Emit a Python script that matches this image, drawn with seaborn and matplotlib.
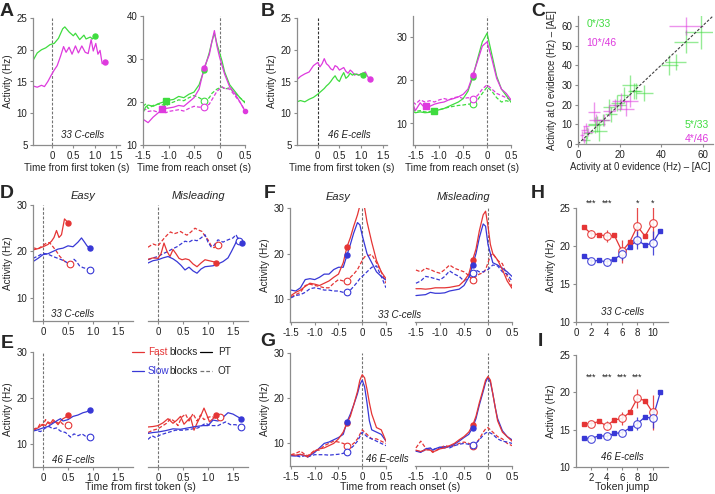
import numpy as np
import matplotlib.pyplot as plt
import seaborn as sns
from matplotlib.lines import Line2D

# ---------------- data ----------------
# A : C-cells, green / magenta
A1_t_green = [-0.45, -0.35, -0.25, -0.15, -0.05, 0.05, 0.15, 0.25, 0.3, 0.4, 0.5, 0.55, 0.65, 0.75, 0.8, 0.9, 0.95, 1.02]
A1_green = [18.3, 19.5, 20.0, 20.3, 20.8, 21.0, 21.8, 23.3, 23.6, 22.8, 22.2, 22.6, 21.6, 22.3, 21.7, 22.0, 21.7, 22.2]
A1_t_mag = [-0.45, -0.35, -0.25, -0.18, -0.1, -0.02, 0.05, 0.12, 0.2, 0.27, 0.33, 0.4, 0.47, 0.55, 0.62, 0.7, 0.78, 0.85,
            0.92, 0.97, 1.03, 1.08, 1.13, 1.18, 1.24]
A1_mag = [14.3, 14.1, 14.4, 14.2, 15.0, 16.0, 16.8, 17.5, 19.0, 20.5, 19.6, 20.4, 19.3, 20.6, 19.5, 20.6, 19.6, 19.4,
          21.6, 19.8, 21.0, 19.3, 19.9, 17.8, 18.1]

A2_t = [-1.5, -1.45, -1.4, -1.3, -1.2, -1.1, -1.05, -1.0, -0.9, -0.8, -0.7, -0.6, -0.5, -0.4, -0.3, -0.2, -0.15, -0.1,
        -0.05, 0.0, 0.05, 0.1, 0.2, 0.3, 0.4, 0.5]
A2_green_pt = [17.5, 18.8, 19.3, 19.0, 19.6, 20.0, 20.2, 20.4, 20.6, 21.3, 21.0, 21.8, 22.3, 24.0, 27.5, 31.5, 34.0, 36.0,
               33.5, 31.5, 29.5, 27.0, 24.0, 22.5, 21.0, 19.8]
A2_mag_pt = [16.0, 15.6, 15.2, 16.5, 17.5, 18.2, 18.5, 18.6, 18.8, 19.2, 19.0, 20.0, 21.0, 23.0, 28.0, 31.0, 34.0, 36.6,
             33.0, 30.5, 28.5, 26.5, 23.5, 22.0, 20.0, 17.9]
A2_green_ot = [19.0, 19.5, 18.5, 19.2, 19.5, 19.3, 19.0, 19.6, 20.0, 20.5, 20.3, 21.0, 21.5, 21.0, 20.3, 21.0, 22.0, 22.5,
               23.0, 23.3, 23.5, 23.0, 23.3, 22.0, 21.0, 20.0]
A2_mag_ot = [18.0, 18.3, 17.8, 18.0, 17.6, 17.8, 17.5, 17.8, 18.0, 18.2, 17.9, 18.5, 19.0, 18.8, 18.8, 19.5, 20.5, 21.5,
             22.5, 23.0, 23.5, 23.2, 23.0, 21.5, 20.0, 18.0]
A2_green_sq = (-1.05, 20.2)
A2_mag_sq = (-1.13, 18.4)

# B : E-cells
B1_t = [-0.48, -0.4, -0.3, -0.2, -0.1, 0.0, 0.05, 0.1, 0.15, 0.2, 0.25, 0.3, 0.35, 0.4, 0.45, 0.5, 0.55, 0.6, 0.65, 0.7,
        0.75, 0.8, 0.85, 0.9, 0.95, 1.0, 1.05, 1.1, 1.15, 1.2]
B1_mag = [15.3, 15.8, 16.2, 16.5, 17.5, 18.0, 17.3, 17.8, 18.6, 17.8, 17.5, 17.0, 16.8, 17.5, 17.3, 16.8, 17.0, 17.2,
          16.6, 16.3, 16.8, 16.5, 16.0, 16.2, 16.0, 16.2, 16.3, 16.5, 15.8, 15.4]
B1_green = [11.8, 12.0, 11.8, 12.2, 12.5, 13.0, 13.3, 13.6, 13.9, 14.3, 14.6, 15.0, 15.5, 15.9, 15.3, 15.0, 15.8, 16.4,
            15.5, 15.8, 16.3, 16.0, 16.2, 16.1, 16.0, 16.2, 16.1]

B2_t = [-1.55, -1.5, -1.4, -1.3, -1.2, -1.1, -1.0, -0.9, -0.8, -0.7, -0.6, -0.5, -0.4, -0.3, -0.2, -0.1, 0.0, 0.1, 0.2,
        0.3, 0.4, 0.5]
B2_mag_pt = [14.5, 13.0, 14.8, 13.6, 14.0, 14.5, 14.8, 15.0, 15.5, 15.8, 16.2, 16.8, 18.0, 21.2, 24.5, 28.0, 29.0, 25.0,
             20.5, 18.0, 17.0, 15.5]
B2_green_pt = [12.8, 12.5, 12.7, 12.5, 12.6, 12.9, 13.2, 13.5, 14.0, 14.5, 15.0, 15.8, 17.5, 20.8, 25.0, 29.0, 31.0, 26.0,
               21.0, 18.0, 16.5, 15.0]
B2_mag_ot = [15.0, 14.5, 15.5, 15.0, 15.3, 15.0, 15.5, 15.8, 15.5, 16.0, 16.2, 15.8, 16.0, 15.8, 16.5, 18.0, 19.0, 18.0,
             17.0, 16.5, 16.0, 15.5]
B2_green_ot = [13.5, 12.8, 13.0, 12.7, 12.8, 13.0, 13.2, 13.5, 13.8, 14.0, 14.2, 14.3, 14.5, 14.5, 15.5, 17.0, 18.5, 17.5,
               16.0, 15.0, 15.3, 15.0]
B2_mag_sq = (-1.27, 14.0)
B2_green_sq = (-1.12, 12.9)

# C : activity at 0 evidence, AC vs AE
C_green_x = [59, 52, 47, 44, 32, 28, 25, 22, 19, 16, 15, 10, 9, 8, 4.5, 4, 12, 20, 27]
C_green_y = [57, 52, 41.5, 40, 26, 27, 30, 25, 21, 15, 19, 6.5, 10, 9.7, 5.5, 2.2, 12, 20, 27]
C_green_xe = [7.5, 6, 5, 4, 4, 3, 4, 3, 3, 3, 3, 4, 4, 3, 2, 2, 3, 3, 3]
C_green_ye = [9, 6, 4, 5, 4, 4, 5, 4, 4, 4, 4, 5, 4, 4, 3, 2, 3, 3, 4]
C_mag_x = [52, 20.5, 23, 15, 7.7, 8.5, 12.5, 2.9, 2, 3, 3.7, 18, 5, 25]
C_mag_y = [60, 22, 18, 17, 16.4, 12, 12, 7.2, 4.7, 2.2, 8.9, 20, 6, 22]
C_mag_xe = [8, 4, 4, 3, 3, 3, 3, 1.5, 1, 1, 1.5, 3, 2, 4]
C_mag_ye = [4.5, 4, 4, 3, 5, 3, 3, 2, 2, 1.5, 2, 3, 2, 3]

# D : C-cells, first token (easy / misleading)
D1_t_red_pt = [-0.2, -0.1, 0.0, 0.1, 0.17, 0.22, 0.27, 0.32, 0.37, 0.43, 0.5]
D1_red_pt = [20.3, 20.6, 21.0, 21.5, 22.2, 23.0, 24.5, 23.0, 23.6, 27.0, 26.2]
D1_t_red_ot = [-0.2, -0.1, 0.0, 0.07, 0.13, 0.2, 0.27, 0.33, 0.4, 0.47, 0.53]
D1_red_ot = [20.8, 20.5, 21.3, 21.8, 21.9, 21.0, 20.0, 19.0, 18.2, 17.5, 17.3]
D1_t_blue_pt = [-0.2, -0.1, 0.0, 0.1, 0.2, 0.3, 0.4, 0.5, 0.6, 0.7, 0.77, 0.83, 0.88, 0.93]
D1_blue_pt = [17.8, 18.5, 19.3, 19.5, 20.0, 20.5, 20.7, 21.2, 21.0, 22.0, 22.9, 22.0, 21.2, 20.7]
D1_t_blue_ot = [-0.2, -0.1, 0.0, 0.1, 0.2, 0.3, 0.37, 0.45, 0.52, 0.57, 0.62, 0.67, 0.73, 0.8, 0.87, 0.93]
D1_blue_ot = [18.5, 19.0, 19.6, 19.4, 18.9, 18.5, 18.2, 17.8, 17.3, 17.6, 18.3, 17.8, 16.9, 16.5, 16.3, 16.0]

D2_t_red_ot = [-0.2, -0.1, 0.0, 0.06, 0.12, 0.18, 0.25, 0.32, 0.38, 0.45, 0.52, 0.58, 0.66, 0.74, 0.81, 0.88, 0.94, 1.0,
               1.06, 1.12, 1.2]
D2_red_ot = [20.9, 21.6, 21.2, 22.0, 22.8, 23.5, 24.2, 23.8, 24.0, 24.3, 23.8, 23.5, 24.2, 25.0, 24.6, 24.3, 23.3, 22.5,
             21.3, 20.8, 21.4]
D2_t_red_pt = [-0.2, -0.1, 0.0, 0.06, 0.12, 0.18, 0.24, 0.3, 0.36, 0.42, 0.48, 0.55, 0.62, 0.7, 0.78, 0.86, 0.94, 1.02,
               1.1, 1.16]
D2_red_pt = [18.3, 18.6, 18.5, 19.5, 21.8, 20.0, 18.9, 20.4, 19.5, 18.5, 18.2, 18.4, 18.2, 17.3, 16.7, 17.5, 18.2, 18.0,
             17.8, 17.6]
D2_t_blue_pt = [-0.2, -0.1, 0.0, 0.1, 0.2, 0.3, 0.38, 0.46, 0.54, 0.62, 0.7, 0.78, 0.86, 0.94, 1.02, 1.1, 1.2, 1.3, 1.4,
                1.47, 1.54, 1.6, 1.68]
D2_blue_pt = [17.5, 18.0, 18.2, 18.6, 18.9, 18.4, 17.8, 17.0, 16.0, 16.6, 15.8, 15.3, 16.2, 16.7, 16.8, 16.9, 17.3, 17.8,
              18.6, 20.0, 21.5, 22.9, 21.8]
D2_t_blue_ot = [-0.2, -0.1, 0.0, 0.1, 0.2, 0.3, 0.38, 0.46, 0.54, 0.62, 0.7, 0.78, 0.86, 0.94, 1.0, 1.06, 1.12, 1.2, 1.3,
                1.4, 1.5, 1.56, 1.62]
D2_blue_ot = [18.2, 18.6, 18.9, 19.5, 20.0, 20.6, 21.0, 21.6, 22.2, 22.0, 22.5, 22.3, 22.9, 23.6, 22.0, 21.0, 21.3, 22.5,
              22.0, 22.5, 22.9, 23.6, 22.3]

# E : E-cells, first token
E1_t_red_pt = [-0.2, -0.1, 0.0, 0.05, 0.1, 0.15, 0.2, 0.25, 0.3, 0.35, 0.4, 0.45, 0.5]
E1_red_pt = [13.0, 13.5, 14.3, 14.0, 14.8, 14.5, 15.3, 14.8, 14.2, 15.0, 15.5, 15.8, 16.2]
E1_t_red_ot = [-0.2, -0.1, -0.05, 0.0, 0.05, 0.1, 0.15, 0.2, 0.25, 0.3, 0.35, 0.4, 0.5]
E1_red_ot = [13.2, 13.6, 14.5, 14.0, 15.3, 14.6, 14.2, 14.8, 15.0, 14.5, 14.8, 14.3, 14.2]
E1_t_blue_pt = [-0.2, -0.1, 0.0, 0.1, 0.2, 0.3, 0.35, 0.4, 0.5, 0.6, 0.7, 0.8, 0.87, 0.93]
E1_blue_pt = [12.8, 13.1, 13.5, 13.8, 14.5, 15.2, 15.5, 15.0, 15.3, 16.0, 16.3, 16.8, 17.0, 17.3]
E1_t_blue_ot = [-0.2, -0.12, -0.05, 0.05, 0.12, 0.2, 0.27, 0.35, 0.45, 0.55, 0.62, 0.7, 0.78, 0.85, 0.93]
E1_blue_ot = [13.3, 12.9, 12.7, 13.5, 13.8, 13.3, 13.5, 12.8, 12.5, 11.5, 12.2, 11.8, 12.2, 11.7, 11.5]

E2_t_red_pt = [-0.2, -0.1, 0.0, 0.1, 0.2, 0.3, 0.38, 0.45, 0.52, 0.58, 0.65, 0.72, 0.78, 0.85, 0.92, 0.97, 1.03, 1.1, 1.16]
E2_red_pt = [13.7, 13.8, 14.0, 14.6, 15.5, 14.5, 15.2, 16.0, 14.3, 15.0, 15.8, 13.0, 14.5, 16.0, 17.8, 16.5, 14.8, 15.5, 16.2]
E2_t_red_ot = [-0.2, -0.1, 0.0, 0.1, 0.17, 0.25, 0.32, 0.4, 0.47, 0.55, 0.62, 0.7, 0.78, 0.85, 0.92, 1.0, 1.08, 1.16, 1.24]
E2_red_ot = [12.5, 13.0, 13.3, 14.0, 14.5, 15.5, 15.0, 14.0, 15.8, 16.5, 15.0, 16.6, 15.0, 16.3, 15.3, 15.8, 16.0, 15.5, 15.8]
E2_t_blue_pt = [-0.2, -0.1, 0.0, 0.15, 0.3, 0.45, 0.6, 0.75, 0.9, 1.0, 1.1, 1.2, 1.3, 1.4, 1.5, 1.58, 1.66]
E2_blue_pt = [12.3, 12.5, 12.6, 12.9, 13.3, 13.2, 13.5, 13.8, 14.0, 14.0, 15.2, 15.0, 15.8, 16.8, 16.5, 16.0, 15.5]
E2_t_blue_ot = [-0.2, -0.12, -0.05, 0.05, 0.2, 0.35, 0.5, 0.65, 0.8, 0.95, 1.05, 1.2, 1.35, 1.45, 1.55, 1.66]
E2_blue_ot = [11.0, 11.8, 11.4, 12.0, 12.5, 13.0, 13.0, 13.2, 13.5, 14.5, 14.0, 14.0, 14.8, 14.2, 14.2, 13.8]

# F : C-cells, reach onset (index 12 = -0.32 s marker)
F_t = [-1.5, -1.4, -1.3, -1.2, -1.1, -1.0, -0.9, -0.8, -0.7, -0.6, -0.5, -0.4, -0.32, -0.25, -0.18, -0.1, -0.05, 0.0,
       0.05, 0.1, 0.2, 0.3, 0.4, 0.5]
F1_red_pt = [10.8, 11.5, 12.0, 12.8, 13.5, 13.3, 13.0, 13.5, 14.0, 14.8, 15.5, 18.0, 21.5, 23.5, 26.0, 28.5, 30.5, 32.0,
             30.0, 27.0, 22.5, 18.5, 16.0, 14.5]
F1_blue_pt = [12.0, 11.8, 12.5, 14.3, 14.5, 14.3, 14.8, 15.5, 15.5, 16.5, 17.0, 17.0, 19.7, 22.0, 24.5, 26.8, 26.3, 24.0,
              22.0, 20.0, 18.0, 16.0, 15.0, 14.2]
F1_red_ot = [10.5, 11.0, 11.5, 13.0, 13.3, 13.0, 12.8, 12.5, 12.5, 13.5, 14.3, 14.0, 14.0, 14.8, 15.5, 16.5, 17.5, 18.5,
             19.3, 19.5, 19.8, 18.0, 16.0, 13.5]
F1_blue_ot = [10.3, 10.8, 11.0, 11.5, 12.3, 12.5, 12.3, 12.0, 12.0, 11.8, 11.8, 11.5, 11.5, 12.0, 12.8, 13.8, 14.5, 15.0,
              15.5, 16.0, 17.0, 17.3, 15.0, 12.5]
F2_red_pt = [12.3, 12.3, 12.2, 12.3, 12.5, 12.5, 12.5, 12.6, 12.8, 13.0, 14.0, 15.5, 18.6, 21.0, 25.0, 28.5, 29.3, 26.0,
             22.0, 20.0, 18.6, 16.5, 14.0, 12.4]
F2_blue_pt = [10.8, 10.9, 11.0, 11.5, 11.3, 11.3, 11.4, 11.8, 12.0, 12.2, 13.0, 14.8, 17.5, 20.0, 23.5, 26.5, 26.0, 22.0,
              20.0, 18.0, 17.5, 16.8, 16.0, 15.0]
F2_red_ot = [16.4, 16.0, 16.8, 16.5, 16.0, 15.7, 16.5, 17.5, 16.8, 16.4, 16.0, 15.2, 14.2, 15.0, 15.5, 15.8, 16.5, 18.0,
             19.5, 20.0, 18.5, 17.8, 15.0, 12.8]
F2_blue_ot = [13.5, 14.0, 15.0, 14.8, 14.5, 14.2, 15.0, 16.2, 15.5, 15.0, 14.0, 14.8, 15.7, 16.4, 16.0, 16.0, 16.3, 16.5,
              17.0, 17.5, 17.3, 16.0, 15.5, 14.0]

# G : E-cells, reach onset (index 13 = -0.32 s marker)
G_t = [-1.5, -1.4, -1.3, -1.2, -1.15, -1.1, -1.0, -0.9, -0.8, -0.7, -0.6, -0.5, -0.4, -0.32, -0.25, -0.18, -0.1, -0.05,
       0.0, 0.05, 0.1, 0.15, 0.2, 0.3, 0.4, 0.5]
G1_red_pt = [7.5, 7.4, 7.6, 7.3, 7.0, 7.5, 8.3, 8.8, 9.0, 9.5, 10.0, 11.0, 12.5, 14.5, 16.0, 18.5, 21.5, 24.0, 25.2, 24.5,
             22.0, 19.0, 16.5, 13.5, 13.0, 10.5]
G1_blue_pt = [7.3, 7.2, 7.5, 7.3, 7.0, 7.3, 8.0, 9.0, 10.0, 10.3, 10.8, 11.3, 12.0, 14.8, 16.5, 18.5, 21.0, 23.0, 24.0,
              22.5, 19.0, 15.0, 13.0, 12.5, 12.0, 10.5]
G1_red_ot = [7.5, 7.8, 8.3, 7.5, 7.3, 7.6, 8.5, 8.5, 9.5, 10.0, 10.5, 10.3, 10.0, 9.5, 9.5, 10.0, 11.0, 12.0, 13.0, 12.5,
             12.0, 11.5, 11.0, 11.0, 10.5, 10.0]
G1_blue_ot = [7.3, 7.3, 7.0, 7.3, 7.0, 7.2, 7.5, 7.5, 7.5, 7.4, 7.5, 7.6, 7.8, 8.2, 8.8, 9.5, 10.5, 11.5, 12.5, 12.0,
              11.5, 11.2, 11.0, 10.5, 10.0, 9.5]
G2_red_pt = [8.5, 8.2, 8.6, 8.5, 8.2, 8.3, 8.8, 9.0, 9.5, 10.0, 10.8, 11.5, 12.5, 14.0, 16.0, 19.0, 22.0, 24.0, 24.8, 24.0,
             21.0, 18.0, 15.0, 12.5, 11.5, 10.5]
G2_blue_pt = [8.3, 8.0, 8.8, 9.0, 8.5, 8.8, 9.2, 9.0, 9.3, 9.8, 10.5, 11.3, 12.0, 13.5, 15.5, 18.5, 21.5, 23.5, 24.6,
              23.5, 21.0, 18.0, 15.5, 12.8, 11.5, 10.8]
G2_red_ot = [9.0, 10.5, 9.0, 8.5, 8.0, 8.3, 9.0, 9.5, 9.3, 9.5, 10.0, 10.3, 10.0, 9.5, 10.0, 11.0, 12.5, 13.2, 13.5, 13.0,
             12.5, 12.0, 11.5, 11.0, 10.0, 9.5]
G2_blue_ot = [8.3, 8.2, 8.5, 8.8, 8.6, 8.8, 9.0, 9.3, 9.0, 9.5, 9.8, 10.0, 9.8, 9.6, 10.0, 10.8, 11.8, 12.3, 12.5, 12.3,
              12.0, 11.5, 11.0, 10.5, 10.3, 10.0]

# H / I : activity vs token jump
tok_red = [1, 2, 3, 4, 5, 6, 7, 8, 9, 10]
tok_blue = [1, 2, 3, 4, 5, 6, 7, 8, 9, 10, 11]
H_red = [22.5, 21.6, 21.5, 21.3, 21.4, 19.3, 20.5, 22.6, 21.3, 23.0]
H_blue = [18.7, 18.0, 18.1, 17.9, 18.3, 18.9, 19.9, 20.8, 20.1, 20.4, 22.0]
H_red_err = [0.5, 0.8, 1.5, 2.5, 2.5]
H_blue_err = [0.4, 0.5, 0.7, 1.2, 1.6]
H_stars = ['***', '***', '', '*', '*']
I_red = [15.8, 15.8, 16.1, 15.5, 16.3, 16.5, 17.3, 19.2, 18.9, 17.3]
I_blue = [13.9, 13.8, 14.2, 14.1, 14.5, 14.6, 15.2, 15.8, 16.7, 16.5, 20.0]
I_red_err = [0.3, 0.6, 0.9, 1.3, 2.4]
I_blue_err = [0.2, 0.3, 0.5, 0.9, 1.3]
I_stars = ['***', '***', '***', '***', '']
even_tok = [2, 4, 6, 8, 10]

GREEN = '#3fdc3f'
MAGENTA = '#de3ade'
RED = '#e53535'
BLUE = '#3838d6'
SPINE = '#8c8c8c'
DASH = (0, (3, 1.6))

sns.set_theme(style='ticks')
plt.rcParams['font.family'] = ['Liberation Sans', 'DejaVu Sans']
plt.rcParams['font.size'] = 7
plt.rcParams['xtick.labelsize'] = 7
plt.rcParams['ytick.labelsize'] = 7
plt.rcParams['axes.labelsize'] = 7.2

W, H = 715, 494
fig = plt.figure(figsize=(W / 100, H / 100), dpi=100)


def add_ax(l, t, r, b):
    return fig.add_axes([l / W, 1 - b / H, (r - l) / W, (b - t) / H])


def style_ax(ax, left=True):
    ax.patch.set_alpha(0)
    for s in ['top', 'right']:
        ax.spines[s].set_visible(False)
    for s in ['left', 'bottom']:
        ax.spines[s].set_color(SPINE)
        ax.spines[s].set_linewidth(0.9)
    ax.tick_params(colors=SPINE, labelcolor='#222222', length=2.5, width=0.8, pad=1.5)
    if not left:
        ax.spines['left'].set_visible(False)
        ax.tick_params(axis='y', left=False, labelleft=False)
    ax.set_xlabel('')
    ax.set_ylabel('')


def trace(ax, t, y, color, dashed=False):
    kw = dict(linestyle=DASH) if dashed else {}
    sns.lineplot(x=t, y=y, ax=ax, color=color, lw=0.9, sort=False, estimator=None, **kw)


def dot(ax, x, y, color, ms=3.6, marker='o'):
    ax.plot([x], [y], marker=marker, ms=ms, color=color, mec=color, ls='none', clip_on=False, zorder=5)


def ring(ax, x, y, color):
    ax.plot([x], [y], 'o', ms=4.8, mfc='white', mec=color, mew=0.8, ls='none', clip_on=False, zorder=5)


def zero_line(ax, color='0.45'):
    ax.axvline(0, color=color, lw=0.8, ls=(0, (2.5, 1.5)), zorder=0)


def first_token_axes(ax, xlim, ylim, yticks, left=True):
    style_ax(ax, left)
    ax.set_xlim(*xlim)
    ax.set_ylim(*ylim)
    ax.set_xticks([0, 0.5, 1.0, 1.5])
    ax.set_xticklabels(['0', '0.5', '1.0', '1.5'])
    ax.set_yticks(yticks)


def reach_axes(ax, xlim, ylim, yticks, left=True):
    style_ax(ax, left)
    ax.set_xlim(*xlim)
    ax.set_ylim(*ylim)
    ax.set_xticks([-1.5, -1.0, -0.5, 0, 0.5])
    ax.set_xticklabels(['-1.5', '-1.0', '-0.5', '0', '0.5'])
    ax.set_yticks(yticks)
    zero_line(ax)


def cells_label(ax, x, y, txt):
    ax.text(x, y, txt, ha='center', va='center', style='italic', fontsize=7, color='#222222', clip_on=False)


def bottom_label(x, txt):
    fig.text(x / W, 1 - 487 / H, txt, ha='center', va='center', fontsize=7.6)


# ---------------- panel A ----------------
ax = add_ax(33, 18, 120, 145)
trace(ax, A1_t_green, A1_green, GREEN)
trace(ax, A1_t_mag, A1_mag, MAGENTA)
dot(ax, A1_t_green[-1], A1_green[-1], GREEN)
dot(ax, A1_t_mag[-1], A1_mag[-1], MAGENTA)
first_token_axes(ax, (-0.45, 1.6), (5, 25), [5, 10, 15, 20, 25])
zero_line(ax)
ax.set_ylabel('Activity (Hz)', labelpad=3)
ax.set_xlabel('Time from first token (s)', labelpad=2)
cells_label(ax, 0.72, 6.6, '33 C-cells')

ax = add_ax(143, 16, 245, 145)
trace(ax, A2_t, A2_green_ot, GREEN, dashed=True)
trace(ax, A2_t, A2_mag_ot, MAGENTA, dashed=True)
trace(ax, A2_t, A2_green_pt, GREEN)
trace(ax, A2_t, A2_mag_pt, MAGENTA)
dot(ax, A2_t[14], A2_green_pt[14], GREEN)
dot(ax, A2_t[14], A2_mag_pt[14], MAGENTA)
ring(ax, A2_t[14], A2_green_ot[14], GREEN)
ring(ax, A2_t[14], A2_mag_ot[14], MAGENTA)
dot(ax, *A2_green_sq, GREEN, ms=4.5, marker='s')
dot(ax, *A2_mag_sq, MAGENTA, ms=4.5, marker='s')
dot(ax, A2_t[-1], A2_mag_pt[-1], MAGENTA, ms=3)
reach_axes(ax, (-1.5, 0.5), (10, 40), [10, 20, 30, 40])
ax.set_xlabel('Time from reach onset (s)', labelpad=2)

# ---------------- panel B ----------------
ax = add_ax(297, 18, 387, 145)
trace(ax, B1_t, B1_mag, MAGENTA)
trace(ax, B1_t[:len(B1_green)], B1_green, GREEN)
dot(ax, B1_t[len(B1_green) - 1], B1_green[-1], GREEN)
dot(ax, B1_t[-1], B1_mag[-1], MAGENTA)
first_token_axes(ax, (-0.48, 1.6), (5, 25), [5, 10, 15, 20, 25])
zero_line(ax, '0.2')
ax.set_ylabel('Activity (Hz)', labelpad=3)
ax.set_xlabel('Time from first token (s)', labelpad=2)
cells_label(ax, 0.74, 6.6, '46 E-cells')

ax = add_ax(413, 16, 511, 145)
trace(ax, B2_t, B2_mag_ot, MAGENTA, dashed=True)
trace(ax, B2_t, B2_green_ot, GREEN, dashed=True)
trace(ax, B2_t, B2_green_pt, GREEN)
trace(ax, B2_t, B2_mag_pt, MAGENTA)
dot(ax, B2_t[13], B2_green_pt[13], GREEN)
dot(ax, B2_t[13], B2_mag_pt[13], MAGENTA)
ring(ax, B2_t[13], B2_green_ot[13], GREEN)
ring(ax, B2_t[13], B2_mag_ot[13], MAGENTA)
dot(ax, *B2_mag_sq, MAGENTA, ms=4.5, marker='s')
dot(ax, *B2_green_sq, GREEN, ms=4.0, marker='s')
reach_axes(ax, (-1.55, 0.5), (5, 35), [10, 20, 30])
ax.set_xlabel('Time from reach onset (s)', labelpad=2)

# ---------------- panel C ----------------
ax = add_ax(578, 16, 713, 144)
style_ax(ax)
ax.errorbar(C_green_x, C_green_y, xerr=C_green_xe, yerr=C_green_ye, fmt='none', ecolor=GREEN, elinewidth=1.0,
            alpha=0.55, capsize=0)
ax.errorbar(C_mag_x, C_mag_y, xerr=C_mag_xe, yerr=C_mag_ye, fmt='none', ecolor=MAGENTA, elinewidth=1.0,
            alpha=0.55, capsize=0)
sns.lineplot(x=[0, 65], y=[0, 65], ax=ax, color='0.25', lw=0.8, linestyle=(0, (2.5, 1.5)))
ax.set_xlim(0, 65)
ax.set_ylim(0, 65)
ax.set_xticks([0, 20, 40, 60])
ax.set_yticks([0, 10, 20, 30, 40, 50, 60])
ax.set_xlabel('Activity at 0 evidence (Hz) \u2013 [AC]', labelpad=2, fontsize=6.9)
ax.xaxis.set_label_coords(0.46, -0.14)
ax.set_ylabel('Activity at 0 evidence (Hz) \u2013 [AE]', labelpad=3, fontsize=6.9)
ax.text(10, 61, '0*/33', color=GREEN, fontsize=7.5, ha='center', va='center')
ax.text(11, 51.5, '10*/46', color=MAGENTA, fontsize=7.5, ha='center', va='center')
ax.text(63, 9.6, '5*/33', color=GREEN, fontsize=7.5, ha='right', va='center')
ax.text(63, 2.5, '4*/46', color=MAGENTA, fontsize=7.5, ha='right', va='center')


# ---------------- panels D / E ----------------
def first_token_pair(top, bottom, data, cells):
    ax1 = add_ax(33, top, 133, bottom)
    ax2 = add_ax(148, top, 248, bottom)
    for ax, (rt, r, rot_t, rot, bt, b, bot_t, bot) in [(ax1, data[0]), (ax2, data[1])]:
        trace(ax, rot_t, rot, RED, dashed=True)
        trace(ax, bot_t, bot, BLUE, dashed=True)
        trace(ax, rt, r, RED)
        trace(ax, bt, b, BLUE)
        ring(ax, rot_t[-1], rot[-1], RED)
        ring(ax, bot_t[-1], bot[-1], BLUE)
        dot(ax, rt[-1], r[-1], RED)
        dot(ax, bt[-1], b[-1], BLUE)
    first_token_axes(ax1, (-0.2, 1.8), (5, 30), [10, 20, 30])
    first_token_axes(ax2, (-0.2, 1.8), (5, 30), [10, 20, 30], left=False)
    zero_line(ax1)
    zero_line(ax2)
    ax1.set_ylabel('Activity (Hz)', labelpad=3)
    cells_label(ax1, 0.6, 6.6, cells)
    return ax1, ax2


D1 = (D1_t_red_pt, D1_red_pt, D1_t_red_ot, D1_red_ot, D1_t_blue_pt, D1_blue_pt, D1_t_blue_ot, D1_blue_ot)
D2 = (D2_t_red_pt, D2_red_pt, D2_t_red_ot, D2_red_ot, D2_t_blue_pt, D2_blue_pt, D2_t_blue_ot, D2_blue_ot)
dax1, dax2 = first_token_pair(205, 321, (D1, D2), '33 C-cells')
dax1.set_title('Easy', style='italic', fontsize=8, pad=4)
dax2.set_title('Misleading', style='italic', fontsize=8, pad=4)

E1 = (E1_t_red_pt, E1_red_pt, E1_t_red_ot, E1_red_ot, E1_t_blue_pt, E1_blue_pt, E1_t_blue_ot, E1_blue_ot)
E2 = (E2_t_red_pt, E2_red_pt, E2_t_red_ot, E2_red_ot, E2_t_blue_pt, E2_blue_pt, E2_t_blue_ot, E2_blue_ot)
eax1, eax2 = first_token_pair(352, 467, (E1, E2), '46 E-cells')
bottom_label(140, 'Time from first token (s)')


# ---------------- panels F / G ----------------
def reach_pair(top, bottom, t, sets, k):
    ax1 = add_ax(290, top, 386, bottom)
    ax2 = add_ax(415, top, 512, bottom)
    for ax, (rp, bp, ro, bo) in zip([ax1, ax2], sets):
        trace(ax, t, ro, RED, dashed=True)
        trace(ax, t, bo, BLUE, dashed=True)
        trace(ax, t, bp, BLUE)
        trace(ax, t, rp, RED)
        ring(ax, t[k], ro[k], RED)
        ring(ax, t[k], bo[k], BLUE)
        dot(ax, t[k], rp[k], RED)
        dot(ax, t[k], bp[k], BLUE)
    reach_axes(ax1, (-1.52, 0.5), (5, 30), [10, 20, 30])
    reach_axes(ax2, (-1.52, 0.5), (5, 30), [10, 20, 30], left=False)
    ax1.set_ylabel('Activity (Hz)', labelpad=3)
    return ax1, ax2


fax1, fax2 = reach_pair(208, 322, F_t, [(F1_red_pt, F1_blue_pt, F1_red_ot, F1_blue_ot),
                                        (F2_red_pt, F2_blue_pt, F2_red_ot, F2_blue_ot)], 12)
fax1.set_title('Easy', style='italic', fontsize=8, pad=6)
fax2.set_title('Misleading', style='italic', fontsize=8, pad=6)
cells_label(fax1, 0.78, 6.6, '33 C-cells')

gax1, gax2 = reach_pair(353, 466, G_t, [(G1_red_pt, G1_blue_pt, G1_red_ot, G1_blue_ot),
                                        (G2_red_pt, G2_blue_pt, G2_red_ot, G2_blue_ot)], 13)
cells_label(gax1, 0.52, 6.6, '46 E-cells')
bottom_label(400, 'Time from reach onset (s)')


# ---------------- panels H / I ----------------
def token_panel(top, bottom, red, blue, red_err, blue_err, stars, star_y, cells, xt):
    ax = add_ax(576, top, 668, bottom)
    sns.lineplot(x=tok_red, y=red, ax=ax, color=RED, lw=0.9, estimator=None)
    sns.lineplot(x=tok_blue, y=blue, ax=ax, color=BLUE, lw=0.9, estimator=None)
    for tk, vals, errs, c in [(tok_red, red, red_err, RED), (tok_blue, blue, blue_err, BLUE)]:
        odd_x = [x for x in tk if x % 2 == 1]
        odd_y = [v for x, v in zip(tk, vals) if x % 2 == 1]
        ev_y = [v for x, v in zip(tk, vals) if x % 2 == 0]
        ax.plot(odd_x, odd_y, 's', ms=2.4, color=c, ls='none', zorder=4)
        ax.errorbar(even_tok, ev_y, yerr=errs, fmt='o', ms=5.5, mfc='white', mec=c, mew=0.8, ecolor=c,
                    elinewidth=0.9, alpha=0.9, capsize=0, zorder=5)
    for x, s in zip(even_tok, stars):
        if s:
            ax.text(x, star_y, s, ha='center', va='center', fontsize=6.5, color='#222222')
    style_ax(ax)
    ax.set_xlim(0, 12)
    ax.set_ylim(10, 25)
    ax.set_xticks(xt)
    ax.set_yticks([10, 15, 20, 25])
    ax.set_ylabel('Activity (Hz)', labelpad=3)
    cells_label(ax, 6.1, 11.3, cells)
    return ax


token_panel(208, 322, H_red, H_blue, H_red_err, H_blue_err, H_stars, 25.6, '33 C-cells', [0, 2, 4, 6, 8, 10])
token_panel(355, 467, I_red, I_blue, I_red_err, I_blue_err, I_stars, 22.0, '46 E-cells', [2, 4, 6, 8, 10])
bottom_label(622, 'Token jump')

# ---------------- legend in E ----------------
legend_rows = [(352, RED, 'Fast', '-', 'PT'), (371, BLUE, 'Slow', DASH, 'OT')]
for y, c, word, ls, tag in legend_rows:
    yf = 1 - y / H
    fig.add_artist(Line2D([132 / W, 144 / W], [yf, yf], color=c, lw=0.9))
    fig.text(148 / W, yf, word, color=c, fontsize=7.2, va='center')
    fig.text(169 / W, yf, 'blocks', color='#222222', fontsize=7.2, va='center')
    fig.add_artist(Line2D([200 / W, 212 / W], [yf, yf], color='black' if tag == 'PT' else '0.45', lw=0.9, ls=ls))
    fig.text(218 / W, yf, tag, color='#222222', fontsize=7.2, va='center')

# ---------------- panel letters ----------------
letters = [('A', 7, 12), ('B', 268, 12), ('C', 538, 12), ('D', 7, 193), ('E', 7, 343), ('F', 270, 193),
           ('G', 268, 342), ('H', 538, 193), ('I', 540, 342)]
for lab, x, y in letters:
    fig.text(x / W, 1 - y / H, lab, fontsize=14, fontweight='bold', ha='center', va='center')

fig.savefig('out.png', dpi=100)
